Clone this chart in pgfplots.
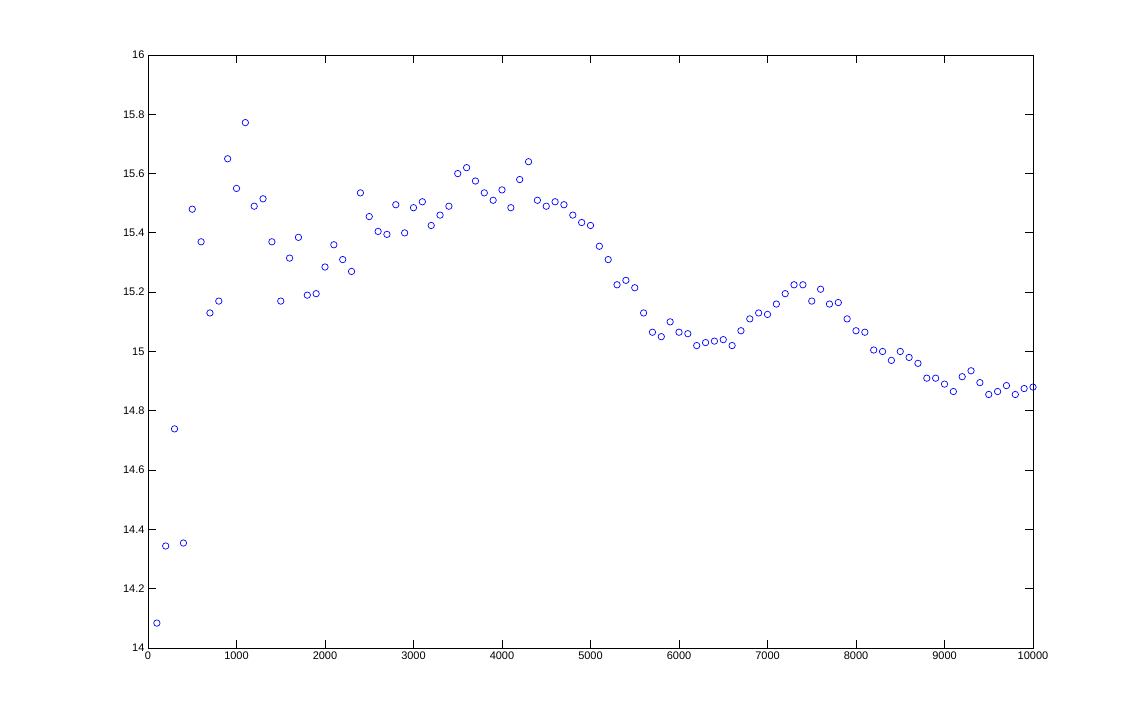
\documentclass[border=0pt]{standalone}
\usepackage{fontspec}
\setmainfont{Liberation Sans}
\usepackage{pgfplots}
\pgfplotsset{compat=1.18}
\begin{document}
\begin{tikzpicture}
\begin{axis}[
  scale only axis,
  width=885pt, height=593pt,
  xmin=0, xmax=10000, ymin=14, ymax=16,
  xtick={0,1000,...,10000},
  ytick={14,14.2,...,16.01},
  scaled x ticks=false,
  xticklabel style={/pgf/number format/.cd, fixed, 1000 sep={}},
  yticklabel style={/pgf/number format/.cd, fixed, precision=1},
  /pgf/number format/assume math mode=true,
  tick label style={font=\fontsize{11}{13}\selectfont},
  tick align=inside,
  major tick length=8pt,
  axis line style={line width=0.8pt},
  tick style={line width=0.8pt, black},
  xtick pos=both, ytick pos=both,
  xticklabel pos=bottom, yticklabel pos=left,
  axis on top=false,
]
\addplot[only marks, mark=o, mark size=3.2pt, blue, mark options={line width=0.7pt}] coordinates {
(100,14.084) (200,14.344) (300,14.739) (400,14.354) (500,15.48) (600,15.37) (700,15.13) (800,15.17) (900,15.65) (1000,15.55)
(1100,15.772) (1200,15.49) (1300,15.515) (1400,15.37) (1500,15.17) (1600,15.315) (1700,15.385) (1800,15.19) (1900,15.195) (2000,15.285)
(2100,15.36) (2200,15.31) (2300,15.27) (2400,15.535) (2500,15.455) (2600,15.405) (2700,15.395) (2800,15.495) (2900,15.40) (3000,15.485)
(3100,15.505) (3200,15.425) (3300,15.46) (3400,15.49) (3500,15.60) (3600,15.62) (3700,15.575) (3800,15.535) (3900,15.51) (4000,15.545)
(4100,15.485) (4200,15.58) (4300,15.64) (4400,15.51) (4500,15.49) (4600,15.505) (4700,15.495) (4800,15.46) (4900,15.435) (5000,15.425)
(5100,15.355) (5200,15.31) (5300,15.225) (5400,15.24) (5500,15.215) (5600,15.13) (5700,15.065) (5800,15.05) (5900,15.10) (6000,15.065)
(6100,15.06) (6200,15.02) (6300,15.03) (6400,15.035) (6500,15.04) (6600,15.02) (6700,15.07) (6800,15.11) (6900,15.13) (7000,15.125)
(7100,15.16) (7200,15.195) (7300,15.225) (7400,15.225) (7500,15.17) (7600,15.21) (7700,15.16) (7800,15.165) (7900,15.11) (8000,15.07)
(8100,15.065) (8200,15.005) (8300,15.00) (8400,14.97) (8500,15.00) (8600,14.98) (8700,14.96) (8800,14.91) (8900,14.91) (9000,14.89)
(9100,14.865) (9200,14.915) (9300,14.935) (9400,14.895) (9500,14.855) (9600,14.865) (9700,14.885) (9800,14.855) (9900,14.875) (10000,14.88)
};
\end{axis}
\path[use as bounding box] ([xshift=-148pt,yshift=-80pt]current axis.south west) rectangle ([xshift=108pt,yshift=55pt]current axis.north east);
\end{tikzpicture}
\end{document}
